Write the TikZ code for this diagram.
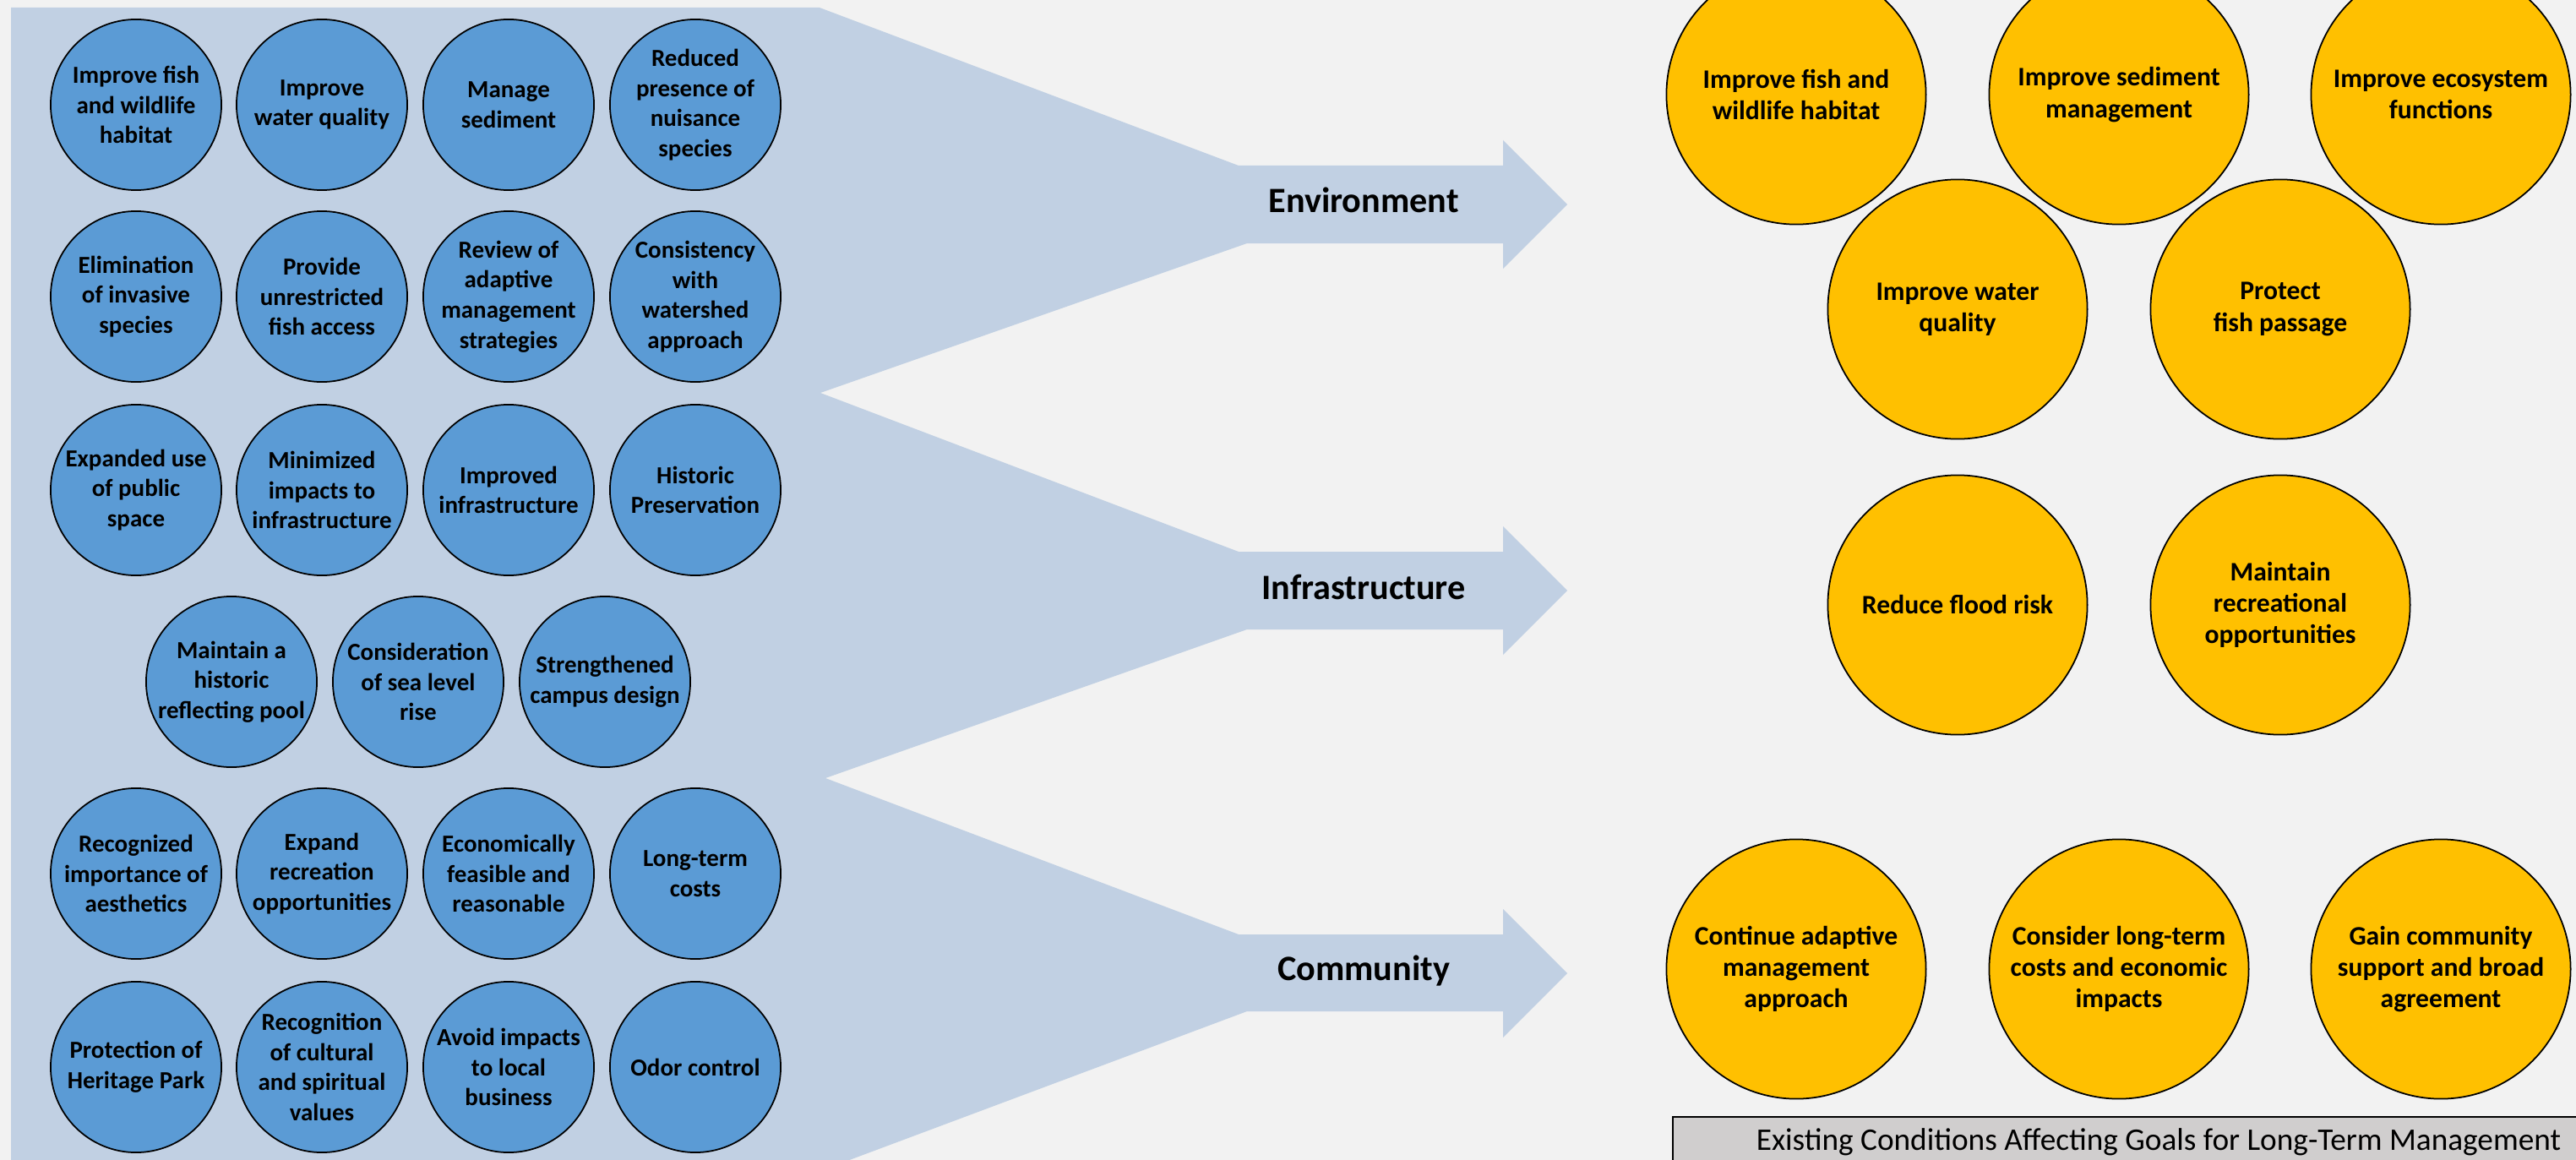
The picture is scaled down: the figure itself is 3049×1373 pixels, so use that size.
\documentclass[tikz,border=0pt]{standalone}
\usepackage{fontspec}
\setsansfont{Carlito}
\usepackage{tikz}
\definecolor{bggrey}{HTML}{F2F2F2}
\definecolor{fanblue}{HTML}{C1D0E3}
\definecolor{critblue}{HTML}{5B9BD5}
\definecolor{goalgold}{HTML}{FFC000}
\definecolor{bargrey}{HTML}{D0CECE}
\tikzset{
  cnode/.style = {align=center, text centered, font=\sffamily},
  crit_b/.style = {cnode, circle, draw=black, fill=critblue, line width=0.5pt,
    inner sep=-0.5cm, minimum size=2.02cm,
    font=\sffamily\bfseries\fontsize{8.25}{10.15}\selectfont},% criterion, blue circle
  goal_y/.style = {cnode, circle, draw=black, fill=goalgold, line width=0.5pt,
    inner sep=-0.5cm, minimum size=3.07cm,
    font=\sffamily\bfseries\fontsize{9}{10.6}\selectfont},% goal, gold circle
  cat_t/.style = {cnode, inner sep=0pt,
    font=\sffamily\bfseries\fontsize{12}{14.4}\selectfont},% category on the arrow
  bar_t/.style = {cnode, rectangle, draw=black, fill=bargrey, line width=0.6pt,
    minimum width=11.5cm, minimum height=0.6cm, inner sep=0pt,
    font=\sffamily\fontsize{10.6}{12.7}\selectfont}% caption bar
}

\begin{document}
\begin{tikzpicture}[x=0.01cm, y=-0.01cm]
	\useasboundingbox (0,0) rectangle (3049,1373);
	\fill [bggrey] (0,0) rectangle (3049,1373);
	\clip (0,0) rectangle (3049,1373);
	\fill [fanblue] (13,9) -- (970,9) -- (1466,196) -- (1779,196) -- (1779,166)
	  -- (1855,242) -- (1779,318) -- (1779,288) -- (1476,288) -- (971,465)
	  -- (1466,653) -- (1779,653) -- (1779,623) -- (1855,699) -- (1779,775)
	  -- (1779,745) -- (1476,745) -- (977,921) -- (1466,1106) -- (1779,1106)
	  -- (1779,1076) -- (1855,1152) -- (1779,1228) -- (1779,1197) -- (1476,1197)
	  -- (960,1390) -- (13,1390) -- cycle;
	\node [cat_t] (env) at (1614,237) {Environment};
	\node [cat_t] (infra) at (1614,695) {Infrastructure};
	\node [cat_t] (comm) at (1614,1149) {Community};

	\node [crit_b] (c11) at (161,124) {Improve fish\\and wildlife\\habitat};
	\node [crit_b] (c12) at (381,124) {Improve\\water quality};
	\node [crit_b] (c13) at (602,124) {Manage\\sediment};
	\node [crit_b] (c14) at (823,124) {Reduced\\presence of\\nuisance\\species};
	\node [crit_b] (c21) at (161,351) {Elimination\\of invasive\\species};
	\node [crit_b] (c22) at (381,351) {Provide\\unrestricted\\fish access};
	\node [crit_b] (c23) at (602,351) {Review of\\adaptive\\management\\strategies};
	\node [crit_b] (c24) at (823,351) {Consistency\\with\\watershed\\approach};
	\node [crit_b] (c31) at (161,580) {Expanded use\\of public\\space};
	\node [crit_b] (c32) at (381,580) {Minimized\\impacts to\\infrastructure};
	\node [crit_b] (c33) at (602,580) {Improved\\infrastructure};
	\node [crit_b] (c34) at (823,580) {Historic\\Preservation};
	\node [crit_b] (c41) at (274,807) {Maintain a\\historic\\reflecting pool};
	\node [crit_b] (c42) at (495,807) {Consideration\\of sea level\\rise};
	\node [crit_b] (c43) at (716,807) {Strengthened\\campus design};
	\node [crit_b] (c51) at (161,1034) {Recognized\\importance of\\aesthetics};
	\node [crit_b] (c52) at (381,1034) {Expand\\recreation\\opportunities};
	\node [crit_b] (c53) at (602,1034) {Economically\\feasible and\\reasonable};
	\node [crit_b] (c54) at (823,1034) {Long-term\\costs};
	\node [crit_b] (c61) at (161,1263) {Protection of\\Heritage Park};
	\node [crit_b] (c62) at (381,1263) {Recognition\\of cultural\\and spiritual\\values};
	\node [crit_b] (c63) at (602,1263) {Avoid impacts\\to local\\business};
	\node [crit_b] (c64) at (823,1263) {Odor control};

	\node [goal_y] (g11) at (2126,112) {Improve fish and\\wildlife habitat};
	\node [goal_y] (g12) at (2508,112) {Improve sediment\\management};
	\node [goal_y] (g13) at (2889,112) {Improve ecosystem\\functions};
	\node [goal_y] (g21) at (2317,366) {Improve water\\quality};
	\node [goal_y] (g22) at (2699,366) {Protect\\fish passage};
	\node [goal_y] (g31) at (2317,716) {Reduce flood risk};
	\node [goal_y] (g32) at (2699,716) {Maintain\\recreational\\opportunities};
	\node [goal_y] (g41) at (2126,1147) {Continue adaptive\\management\\approach};
	\node [goal_y] (g42) at (2508,1147) {Consider long-term\\costs and economic\\impacts};
	\node [goal_y] (g43) at (2889,1147) {Gain community\\support and broad\\agreement};

	\node [bar_t] (cap) at (2555,1352) {Existing Conditions Affecting Goals for Long-Term Management};
\end{tikzpicture}
\end{document}
